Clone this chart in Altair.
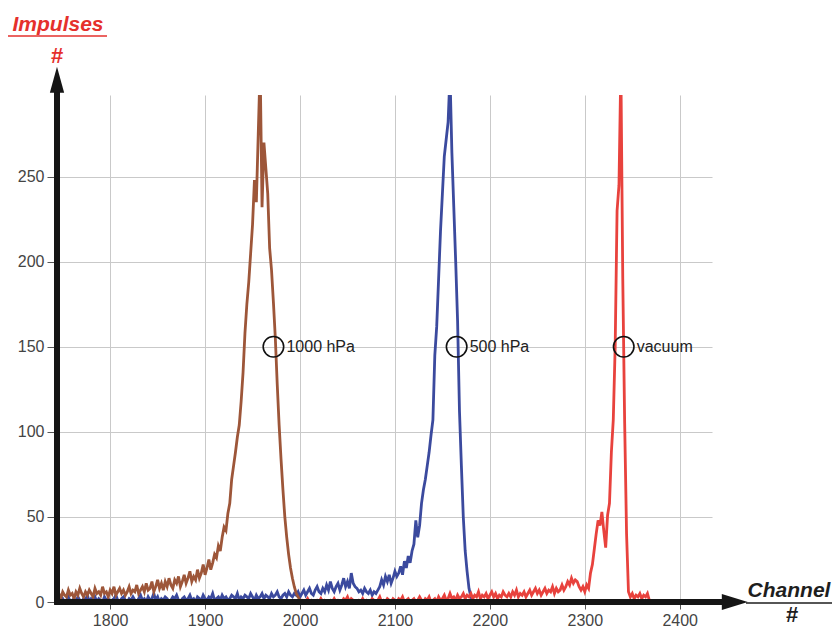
import altair as alt
import pandas as pd

# ---------------- data ----------------
STEP = 2  # channel spacing of the sampled spectra

brown_start = 1744  # 1000 hPa
brown_counts = [
    3, 5, 2, 6, 4, 3, 7, 4, 5, 2,
    6, 4, 8, 5, 3, 6, 4, 7, 5, 3,
    8, 5, 6, 4, 9, 5, 6, 3, 7, 5,
    9, 4, 6, 8, 5, 7, 4, 6, 9, 5,
    7, 6, 10, 5, 7, 9, 6, 11, 7, 8,
    12, 6, 9, 13, 8, 11, 7, 12, 9, 14,
    10, 8, 13, 11, 15, 9, 12, 16, 11, 14,
    18, 12, 15, 13, 19, 14, 17, 22, 16, 20,
    25, 19, 23, 28, 26, 33, 30, 38, 44, 42,
    52, 58, 72, 80, 88, 97, 104, 118, 135, 158,
    175, 188, 205, 222, 248, 235, 275, 315, 232, 270,
    255, 240, 208, 195, 176, 155, 128, 104, 84, 66,
    50, 38, 28, 20, 14, 9, 5, 3, 1,
]

blue_start = 1744  # 500 hPa
blue_counts = [
    0, 1, 0, 2, 0, 1, 3, 0, 1, 2,
    0, 3, 1, 0, 2, 1, 4, 0, 2, 1,
    3, 0, 2, 1, 0, 3, 1, 2, 0, 1,
    2, 4, 1, 0, 2, 3, 1, 0, 2, 1,
    3, 1, 0, 2, 4, 1, 2, 0, 3, 1,
    2, 5, 1, 3, 0, 2, 1, 3, 2, 0,
    1, 3, 2, 4, 1, 0, 2, 3, 1, 2,
    4, 1, 2, 0, 3, 2, 1, 4, 2, 1,
    3, 2, 5, 1, 2, 3, 1, 4, 2, 3,
    1, 2, 4, 3, 2, 5, 1, 3, 2, 4,
    3, 2, 5, 3, 1, 4, 2, 3, 5, 2,
    4, 3, 2, 5, 3, 4, 6, 3, 2, 4,
    5, 3, 6, 4, 3, 5, 4, 6, 3, 5,
    7, 4, 6, 8, 5, 4, 7, 9, 6, 5,
    8, 6, 10, 7, 12, 8, 6, 9, 11, 7,
    10, 14, 9, 12, 8, 17, 11, 9, 8, 6,
    7, 5, 8, 6, 5, 7, 4, 6, 5, 7,
    9, 13, 10, 15, 12, 16, 11, 14, 18, 15,
    17, 21, 16, 24, 20, 27, 23, 30, 34, 48,
    38, 45, 58, 66, 72, 80, 88, 98, 107, 145,
    162, 190, 218, 240, 262, 272, 282, 310, 264, 232,
    200, 165, 112, 80, 50, 30, 18, 8, 3, 1,
    0,
]

red_start = 2000  # vacuum
red_counts = [
    0, 1, 0, 0, 2, 0, 1, 0, 0, 1,
    0, 2, 0, 1, 0, 0, 1, 0, 2, 0,
    1, 0, 0, 2, 1, 3, 0, 2, 1, 0,
    0, 1, 0, 2, 0, 1, 0, 0, 2, 1,
    0, 1, 3, 0, 1, 0, 2, 1, 0, 2,
    1, 0, 2, 1, 3, 0, 1, 2, 0, 1,
    2, 0, 1, 3, 1, 0, 2, 1, 3, 0,
    1, 2, 0, 3, 1, 2, 4, 1, 2, 5,
    2, 3, 1, 4, 2, 3, 5, 2, 4, 3,
    5, 2, 4, 3, 6, 2, 4, 3, 5, 2,
    4, 6, 3, 5, 2, 4, 3, 6, 4, 3,
    5, 3, 6, 4, 7, 3, 5, 4, 6, 3,
    5, 7, 4, 6, 8, 5, 7, 4, 6, 8,
    5, 7, 6, 9, 5, 8, 6, 7, 10, 7,
    9, 12, 10, 14, 11, 13, 12, 9, 7, 9,
    6, 10, 8, 17, 22, 31, 40, 48, 45, 53,
    42, 32, 51, 58, 88, 107, 150, 230, 245, 315,
    190, 105, 40, 6, 3, 5, 2, 4, 3, 5,
    2, 4, 3, 5, 1,
]

marker_channels = [1972, 2165, 2341]
marker_counts = [150, 150, 150]
marker_labels = ["1000 hPa", "500 hPa", "vacuum"]

x_ticks = [1800, 1900, 2000, 2100, 2200, 2300, 2400]
y_ticks = [0, 50, 100, 150, 200, 250]

X_DOMAIN = [1744, 2434]
Y_DOMAIN = [0, 298]

# ---------------- build tables ----------------
def series_df(start, counts):
    return pd.DataFrame({
        "channel": [start + STEP * i for i in range(len(counts))],
        "count": counts,
    })

brown_df = series_df(brown_start, brown_counts)
blue_df = series_df(blue_start, blue_counts)
red_df = series_df(red_start, red_counts)
markers_df = pd.DataFrame({"channel": marker_channels, "count": marker_counts,
                           "label": marker_labels})

xs = alt.Scale(domain=X_DOMAIN, nice=False, zero=False)
ys = alt.Scale(domain=Y_DOMAIN, nice=False, zero=False)
FONT = "Liberation Sans"
xaxis = alt.Axis(values=x_ticks, title=None, grid=True, domain=False, format="d",
                 tickSize=7, labelPadding=3)
yaxis = alt.Axis(values=y_ticks, title=None, grid=True, domain=False, format="d",
                 tickSize=10, labelPadding=3)


def X(field):
    return alt.X(field, type="quantitative", scale=xs, axis=xaxis)


def Y(field):
    return alt.Y(field, type="quantitative", scale=ys, axis=yaxis)


def spectrum(df, color):
    return alt.Chart(df).mark_line(color=color, strokeWidth=2.8, clip=True).encode(
        x=X("channel"), y=Y("count"))


blue = spectrum(blue_df, "#3b4a9e")
brown = spectrum(brown_df, "#9d5639")
red = spectrum(red_df, "#e8423d")

# axis arrows (thick black)
axis_lines_df = pd.DataFrame({"x": [1741, 1744], "x2": [2455, 1744],
                              "y": [0, -1.5], "y2": [0, 300]})
axis_lines = alt.Chart(axis_lines_df).mark_rule(color="#151515", strokeWidth=6).encode(
    x=X("x"), x2="x2", y=Y("y"), y2="y2")

head_x = alt.Chart(pd.DataFrame({"x": [2458], "y": [0]})).mark_point(
    shape="M -1 -0.62 L 1 0 L -1 0.62 Z", filled=True, size=676,
    color="#151515", opacity=1, strokeWidth=0).encode(x=X("x"), y=Y("y"))
head_y = alt.Chart(pd.DataFrame({"x": [1744], "y": [307]})).mark_point(
    shape="M -0.55 1 L 0 -1 L 0.55 1 Z", filled=True, size=676,
    color="#151515", opacity=1, strokeWidth=0).encode(x=X("x"), y=Y("y"))

# peak markers and labels
circles = alt.Chart(markers_df).mark_point(
    shape="circle", size=420, filled=False, color="#111111",
    strokeWidth=1.6, opacity=1).encode(x=X("channel"), y=Y("count"))
circle_text = alt.Chart(markers_df).mark_text(
    align="left", baseline="middle", dx=13, fontSize=16, font=FONT,
    color="#222222").encode(x=X("channel"), y=Y("count"), text="label:N")

# axis titles (underlined, italic bold)
title_y = alt.Chart(pd.DataFrame({"t": ["Impulses"]})).mark_text(
    align="center", baseline="alphabetic", fontSize=21, fontStyle="italic",
    fontWeight="bold", font=FONT, color="#e5302c").encode(
    x=alt.value(1), y=alt.value(-64), text="t:N")
title_y_line = alt.Chart(pd.DataFrame({"t": [1]})).mark_rule(
    color="#e5302c", strokeWidth=1.6).encode(
    x=alt.value(-49), x2=alt.value(50), y=alt.value(-59))
title_y_hash = alt.Chart(pd.DataFrame({"t": ["#"]})).mark_text(
    align="center", baseline="alphabetic", fontSize=22, fontWeight="bold",
    font=FONT, color="#e5302c").encode(x=alt.value(0), y=alt.value(-32), text="t:N")

title_x = alt.Chart(pd.DataFrame({"t": ["Channel"]})).mark_text(
    align="center", baseline="alphabetic", fontSize=21, fontStyle="italic",
    fontWeight="bold", font=FONT, color="#1e1e1e").encode(
    x=alt.value(732), y=alt.value(502), text="t:N")
title_x_line = alt.Chart(pd.DataFrame({"t": [1]})).mark_rule(
    color="#1e1e1e", strokeWidth=1.6).encode(
    x=alt.value(689), x2=alt.value(775), y=alt.value(508))
title_x_hash = alt.Chart(pd.DataFrame({"t": ["#"]})).mark_text(
    align="center", baseline="alphabetic", fontSize=22, fontWeight="bold",
    font=FONT, color="#1e1e1e").encode(x=alt.value(735), y=alt.value(527), text="t:N")

chart = alt.layer(
    blue, brown, red, axis_lines, head_x, head_y, circles, circle_text,
    title_y, title_y_line, title_y_hash, title_x, title_x_line, title_x_hash,
).properties(
    width=655, height=507,
    autosize=alt.AutoSizeParams(type="none"),
    padding={"left": 49, "top": 87, "right": 120, "bottom": 28},
    background="white",
).configure_view(strokeWidth=0).configure_axis(
    gridColor="#c9c9c9", gridWidth=1, tickColor="#555555", tickWidth=1,
    labelFont=FONT, labelFontSize=16, labelColor="#444444",
)

chart.save("out.html", embed_options={"renderer": "svg", "actions": False})
